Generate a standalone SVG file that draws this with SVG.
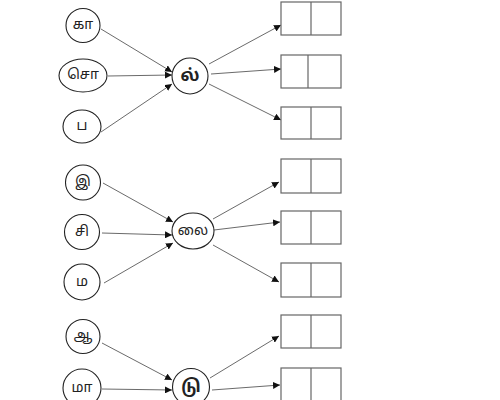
<svg xmlns="http://www.w3.org/2000/svg" width="500" height="400" viewBox="0 0 500 400">
<style>
.n{fill:#fff;stroke:#222;stroke-width:1.1}
.b{fill:#fff;stroke:#666;stroke-width:1.2}
.d{stroke:#666;stroke-width:1.2}
.t{font-family:"Noto Sans Tamil","Lohit Tamil","Noto Sans","DejaVu Sans",sans-serif;font-size:14px;fill:#222;text-anchor:middle;dominant-baseline:central}
.c{font-size:17px;font-weight:bold}
.e{stroke:#444;stroke-width:0.8;fill:none;marker-end:url(#ah)}
</style>
<defs>
<marker id="ah" viewBox="0 0 10 10" refX="10" refY="5" markerWidth="7" markerHeight="7" markerUnits="userSpaceOnUse" orient="auto">
<path d="M0,0 L10,5 L0,10 z" fill="#111"/>
</marker>
</defs>
<rect width="500" height="400" fill="#fff"/>
<g id="connectors">
<line class="e" x1="101" y1="29" x2="172" y2="72"/>
<line class="e" x1="108" y1="76" x2="172" y2="75"/>
<line class="e" x1="101" y1="132" x2="172" y2="84"/>
<line class="e" x1="209" y1="64" x2="281" y2="25"/>
<line class="e" x1="211" y1="74" x2="281" y2="69"/>
<line class="e" x1="209" y1="84" x2="281" y2="120"/>
<line class="e" x1="103" y1="183" x2="173" y2="222"/>
<line class="e" x1="102" y1="233" x2="172" y2="235"/>
<line class="e" x1="104" y1="283" x2="173" y2="243"/>
<line class="e" x1="213" y1="219" x2="279" y2="182"/>
<line class="e" x1="214" y1="230" x2="280" y2="222"/>
<line class="e" x1="213" y1="245" x2="279" y2="282"/>
<line class="e" x1="102" y1="343" x2="172" y2="380"/>
<line class="e" x1="102" y1="389" x2="172" y2="390"/>
<line class="e" x1="210" y1="378" x2="279" y2="336"/>
<line class="e" x1="212" y1="390" x2="280" y2="385"/>
</g>
<g id="n1"><circle class="n" cx="83" cy="25.5" r="17"/><text class="t" x="83" y="25.5">கா</text></g>
<g id="n2"><ellipse class="n" cx="83" cy="75.5" rx="24" ry="16.5"/><text class="t" x="83" y="75.5">சொ</text></g>
<g id="n3"><ellipse class="n" cx="82" cy="126.5" rx="19" ry="16.5"/><text class="t" x="82" y="126.5">ப</text></g>
<g id="c1"><circle class="n" cx="190" cy="76" r="18"/><text class="t c" x="190" y="76">ல்</text></g>
<g id="b1"><rect class="b" x="281" y="2" width="60" height="33"/><line class="d" x1="311" y1="2" x2="311" y2="35"/></g>
<g id="b2"><rect class="b" x="281" y="55" width="60" height="33"/><line class="d" x1="308" y1="55" x2="308" y2="88"/></g>
<g id="b3"><rect class="b" x="281" y="107" width="60" height="32"/><line class="d" x1="311" y1="107" x2="311" y2="139"/></g>
<g id="n4"><circle class="n" cx="83" cy="182.5" r="17.5"/><text class="t" x="83" y="182.5">இ</text></g>
<g id="n5"><circle class="n" cx="82" cy="232" r="17.5"/><text class="t" x="82" y="232">சி</text></g>
<g id="n6"><circle class="n" cx="82" cy="282" r="18"/><text class="t" x="82" y="282">ம</text></g>
<g id="c2"><ellipse class="n" cx="193" cy="231" rx="21" ry="18"/><text class="t" x="193" y="231">லை</text></g>
<g id="b4"><rect class="b" x="281" y="159" width="60" height="34"/><line class="d" x1="311" y1="159" x2="311" y2="193"/></g>
<g id="b5"><rect class="b" x="281" y="211" width="60" height="33"/><line class="d" x1="311" y1="211" x2="311" y2="244"/></g>
<g id="b6"><rect class="b" x="281" y="263" width="60" height="34"/><line class="d" x1="311" y1="263" x2="311" y2="297"/></g>
<g id="n7"><circle class="n" cx="83" cy="336.5" r="17"/><text class="t" x="83" y="336.5">ஆ</text></g>
<g id="n8"><circle class="n" cx="82" cy="388" r="19"/><text class="t" x="82" y="388">மா</text></g>
<g id="c3"><circle class="n" cx="191" cy="387" r="18.5"/><text class="t c" x="191" y="387">டு</text></g>
<g id="b7"><rect class="b" x="281" y="315" width="60" height="33"/><line class="d" x1="311" y1="315" x2="311" y2="348"/></g>
<g id="b8"><rect class="b" x="281" y="368" width="60" height="40"/><line class="d" x1="311" y1="368" x2="311" y2="408"/></g>
</svg>
